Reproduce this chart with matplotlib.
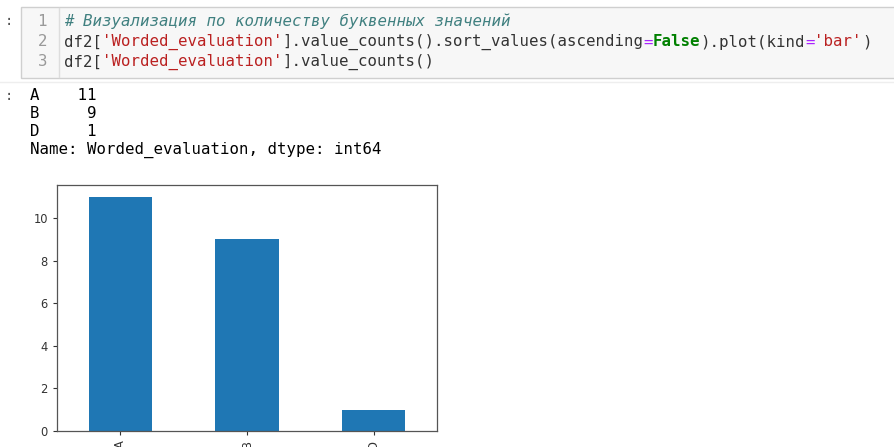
import matplotlib.pyplot as plt
from matplotlib.patches import Rectangle
from matplotlib.lines import Line2D

# Data
categories = ['A', 'B', 'D']
counts = [11, 9, 1]
series_name = 'Worded_evaluation'

W, H = 895, 447
fig = plt.figure(figsize=(W / 100, H / 100), dpi=100)
fig.patch.set_facecolor('white')
renderer = fig.canvas.get_renderer()


def fx(x):
    return x / W


def fy(y):
    return 1 - y / H


mono = 'DejaVu Sans Mono'

black = '#333333'
red = '#BA2121'
green = '#008000'
purple = '#AA22FF'
comment = '#408080'
gray = '#999999'

code_lines = [
    [("# Визуализация по количеству буквенных значений", comment, 'italic', 'normal')],
    [("df2[", black, 'normal', 'normal'), ("'Worded_evaluation'", red, 'normal', 'normal'),
     ("].value_counts().sort_values(ascending", black, 'normal', 'normal'),
     ("=", purple, 'normal', 'normal'), ("False", green, 'normal', 'bold'),
     (").plot(kind", black, 'normal', 'normal'), ("=", purple, 'normal', 'normal'),
     ("'bar'", red, 'normal', 'normal'), (")", black, 'normal', 'normal')],
    [("df2[", black, 'normal', 'normal'), ("'Worded_evaluation'", red, 'normal', 'normal'),
     ("].value_counts()", black, 'normal', 'normal')],
]

# pick a font size so the long code line spans about 809 px like the screenshot
probe = fig.text(0, 0, ''.join(s[0] for s in code_lines[1]), fontsize=10, family=mono)
w10 = probe.get_window_extent(renderer).width
probe.remove()
code_size = 10 * 809 / w10

# code cell box
fig.add_artist(Rectangle((fx(21), fy(78)), fx(900) - fx(21), fy(7) - fy(78),
                         transform=fig.transFigure, facecolor='#f7f7f7',
                         edgecolor='#cfcfcf', linewidth=1))
fig.add_artist(Line2D([fx(59), fx(59)], [fy(8), fy(77)], transform=fig.transFigure,
                      color='#dddddd', linewidth=1))
fig.add_artist(Line2D([fx(0), fx(895)], [fy(82), fy(82)], transform=fig.transFigure,
                      color='#eeeeee', linewidth=1))

# prompts
fig.text(fx(5), fy(21), ':', fontsize=10, color='#555555', va='center', family=mono)
fig.text(fx(5), fy(96), ':', fontsize=10, color='#555555', va='center', family=mono)

line_y = [21.5, 42, 62]
x0 = 64
for i, (segs, y) in enumerate(zip(code_lines, line_y)):
    fig.text(fx(47), fy(y), str(i + 1), fontsize=code_size, color=gray,
             va='center', ha='right', family=mono)
    done = ''
    for txt, col, style, weight in segs:
        # position from the measured width of everything before this piece
        if done:
            p = fig.text(0, 0, done + '|', fontsize=code_size, family=mono)
            q = fig.text(0, 0, '|', fontsize=code_size, family=mono)
            off = p.get_window_extent(renderer).width - q.get_window_extent(renderer).width
            p.remove()
            q.remove()
        else:
            off = 0
        fig.text(fx(x0 + off), fy(y), txt, fontsize=code_size, color=col,
                 va='center', ha='left', family=mono, style=style, weight=weight)
        done += txt

# printed output
out_lines = [f"{c}{n:>6}" for c, n in zip(categories, counts)]
out_lines.append(f"Name: {series_name}, dtype: int64")
out_y = [96, 113.5, 131.5, 150]
for txt, y in zip(out_lines, out_y):
    fig.text(fx(30), fy(y), txt, fontsize=11.3, color='black',
             va='center', ha='left', family=mono)

# bar chart
ax = fig.add_axes([fx(57), fy(431), fx(437) - fx(57), fy(185) - fy(431)])
ax.bar(range(len(categories)), counts, width=0.5, color='#1f77b4')
ax.set_xlim(-0.5, len(categories) - 0.5)
ax.set_ylim(0, max(counts) * 1.05)
ax.set_xticks(range(len(categories)))
ax.set_xticklabels(categories, rotation=90)
ax.set_yticks([0, 2, 4, 6, 8, 10])
ax.tick_params(labelsize=8.3, length=3, width=0.8, colors='#333333')
for s in ax.spines.values():
    s.set_color('#555555')
    s.set_linewidth(0.9)

fig.savefig('out.png', dpi=100)
